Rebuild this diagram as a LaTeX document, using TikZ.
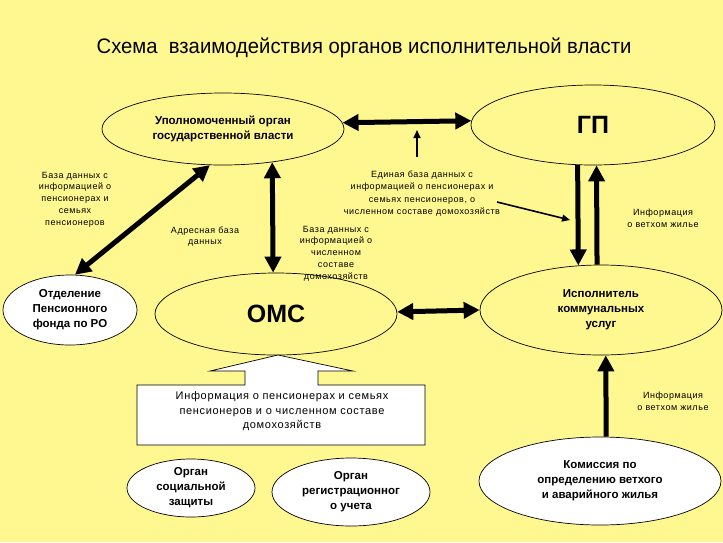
\documentclass[tikz,border=0pt]{standalone}
\usepackage{graphicx}
\usepackage{fontspec}
\setmainfont{Liberation Sans}
\newfontfamily\spacedsans[LetterSpace=6]{Liberation Sans}
\usetikzlibrary{shapes.geometric,arrows.meta}
\definecolor{bgyellow}{RGB}{255,247,143}
\begin{document}
\begin{tikzpicture}[x=1pt,y=-1pt,
  oval/.style={ellipse,draw=black,line width=0.7pt,inner sep=0pt,align=center,
    font=\bfseries\fontsize{11.5}{15}\selectfont},
  yoval/.style={oval,fill=bgyellow},
  woval/.style={oval,fill=white},
  bigarrow/.style={line width=5pt,-{Triangle[length=16pt,width=16pt]}},
  dblarrow/.style={line width=5pt,{Triangle[length=16pt,width=16pt]}-{Triangle[length=16pt,width=16pt]}},
  thinarrow/.style={line width=1.6pt,-{Triangle[length=8pt,width=7pt]}},
  lbl/.style={align=center,inner sep=0pt,font=\spacedsans\fontsize{9}{11.8}\selectfont},
]
\fill[bgyellow] (0,0) rectangle (723,542);
\useasboundingbox (0,0) rectangle (723,542);

% title
\node[inner sep=0pt,font=\fontsize{21}{24}\selectfont] (title) at (364,48)
  {\scalebox{0.965}[1]{Схема\ \ взаимодействия органов исполнительной власти}};

% ellipses
\node[yoval,minimum width=242pt,minimum height=72pt] (upo) at (223,129)
  {Уполномоченный орган\\государственной власти};
\node[yoval,minimum width=244pt,minimum height=80pt,font=\bfseries\fontsize{25}{28}\selectfont] (gp) at (593,125) {ГП};
\node[yoval,minimum width=242pt,minimum height=82pt,font=\bfseries\fontsize{25}{28}\selectfont] (oms) at (276,314) {ОМС};
\node[yoval,minimum width=242pt,minimum height=90pt] (isp) at (601,310)
  {Исполнитель\\коммунальных\\услуг};
\node[woval,minimum width=134pt,minimum height=70pt] (pfr) at (70,310)
  {Отделение\\Пенсионного\\фонда по РО};
\node[woval,minimum width=242pt,minimum height=88pt] (kom) at (600,481)
  {Комиссия по\\определению ветхого\\и аварийного жилья};
\node[woval,minimum width=128pt,minimum height=58pt] (soc) at (191,488)
  {Орган\\социальной\\защиты};
\node[woval,minimum width=158pt,minimum height=68pt] (reg) at (351,492)
  {Орган\\регистрационног\\о учета};

% info box with block arrow
\draw[fill=white,line width=0.7pt] (137,385) -- (245,385) -- (245,371) -- (210,371) -- (278,355)
  -- (353,371) -- (318,371) -- (318,385) -- (425,385) -- (425,445) -- (137,445) -- cycle;
\node[align=center,inner sep=0pt,font=\spacedsans\fontsize{11}{14.5}\selectfont] (info) at (282,411.5)
  {Информация о пенсионерах и семьях\\пенсионеров и о численном составе\\домохозяйств};

% labels
\node[lbl] (l1) at (75,199.5) {База данных с\\информацией о\\пенсионерах и\\семьях\\пенсионеров};
\node[lbl] (l2) at (205,236.5) {Адресная база\\данных};
\node[lbl] (l3) at (336,253.5) {База данных с\\информацией о\\численном\\составе\\домохозяйств};
\node[lbl,font=\spacedsans\fontsize{9}{12.3}\selectfont] (l4) at (422,193.5)
  {Единая база данных с\\информацией о пенсионерах и\\семьях пенсионеров, о\\численном составе домохозяйств};
\node[lbl] (l5) at (663,218) {Информация\\о ветхом жилье};
\node[lbl] (l6) at (673,401.5) {Информация\\о ветхом жилье};

% connectors
\draw[dblarrow] (upo.3.4) -- (gp.178.6);
\draw[dblarrow] (upo.250.1) -- (pfr.82.3);
\draw[dblarrow] (upo.326.7) -- (oms.94.2);
\draw[bigarrow] (gp.249.3) -- (isp.117.5);
\draw[bigarrow] (isp.95.1) -- (gp.275.7);
\draw[dblarrow] (oms.1.9) -- (isp.180);
\draw[bigarrow] (kom.82.2) -- (isp.276.3);

\coordinate (b1) at (417,157);
\coordinate (b2) at (417,130);
\draw[thinarrow] (b1) -- (b2);
\coordinate (f1) at (497,202);
\coordinate (f2) at (570,220);
\draw[thinarrow] (f1) -- (f2);
\end{tikzpicture}
\end{document}
